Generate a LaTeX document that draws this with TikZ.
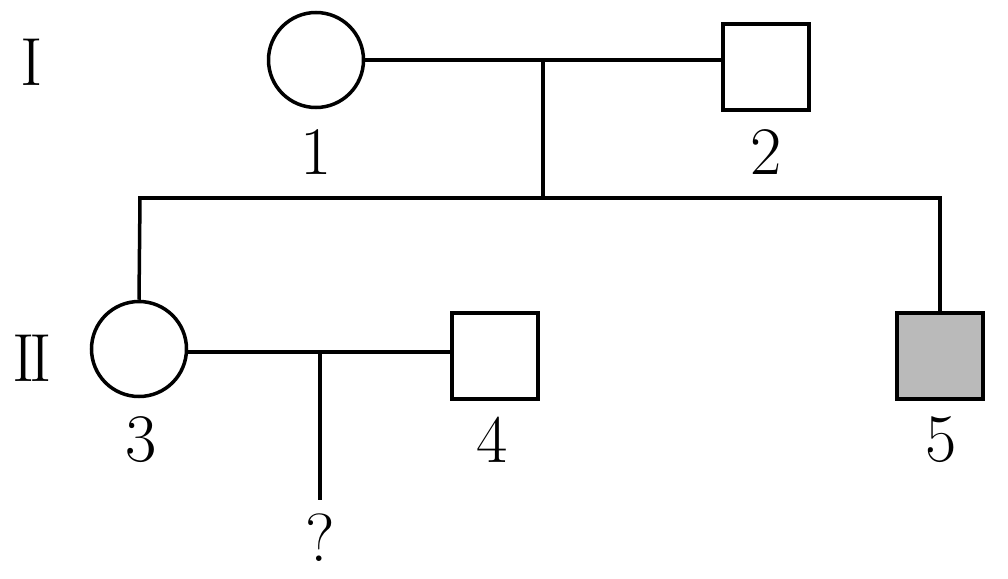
\documentclass[tikz,border=0pt]{standalone}
\begin{document}
\begin{tikzpicture}[x=1pt,y=-1pt,
  ln/.style={line width=3.5pt},
  fem/.style={circle,draw,line width=3.5pt,minimum size=95pt,inner sep=0pt},
  mal/.style={rectangle,draw,line width=3.5pt,minimum size=86pt,inner sep=0pt},
  aff/.style={mal,fill=black!27},
  lbl/.style={font=\fontsize{68}{70}\selectfont,inner sep=0pt}]
\useasboundingbox (0,0) rectangle (1008,578);
\node[fem] (p1) at (316,60) {};
\node[mal] (p2) at (766,67) {};
\node[fem] (p3) at (139,349) {};
\node[mal] (p4) at (495,356) {};
\node[aff] (p5) at (940,356) {};
\node[lbl] (l1) at (316,152) {1};
\node[lbl] (l2) at (766,152) {2};
\node[lbl] (l3) at (141,440) {3};
\node[lbl] (l4) at (492,440) {4};
\node[lbl] (l5) at (941,440) {5};
\node[lbl] (g1) at (32,62) {I};
\node[lbl] (g2) at (32,358) {I\kern-0.07em I};
\node[lbl] (q) at (320,538) {?};
\coordinate (m1) at (543,61);
\coordinate (s1) at (543,198);
\coordinate (sl) at (140,198);
\coordinate (sr) at (940,198);
\coordinate (m2) at (320,352);
\coordinate (c2) at (320,500);
\draw[ln] (p1.east) -- (p1.east -| p2.west);
\draw[ln] (m1) -- (s1);
\draw[ln,line cap=rect] (sl) -- (sr);
\draw[ln] (sl) -- (p3.north);
\draw[ln] (sr) -- (p5.north);
\draw[ln] (p3.east |- m2) -- (m2 -| p4.west);
\draw[ln] (m2) -- (c2);
\end{tikzpicture}
\end{document}
